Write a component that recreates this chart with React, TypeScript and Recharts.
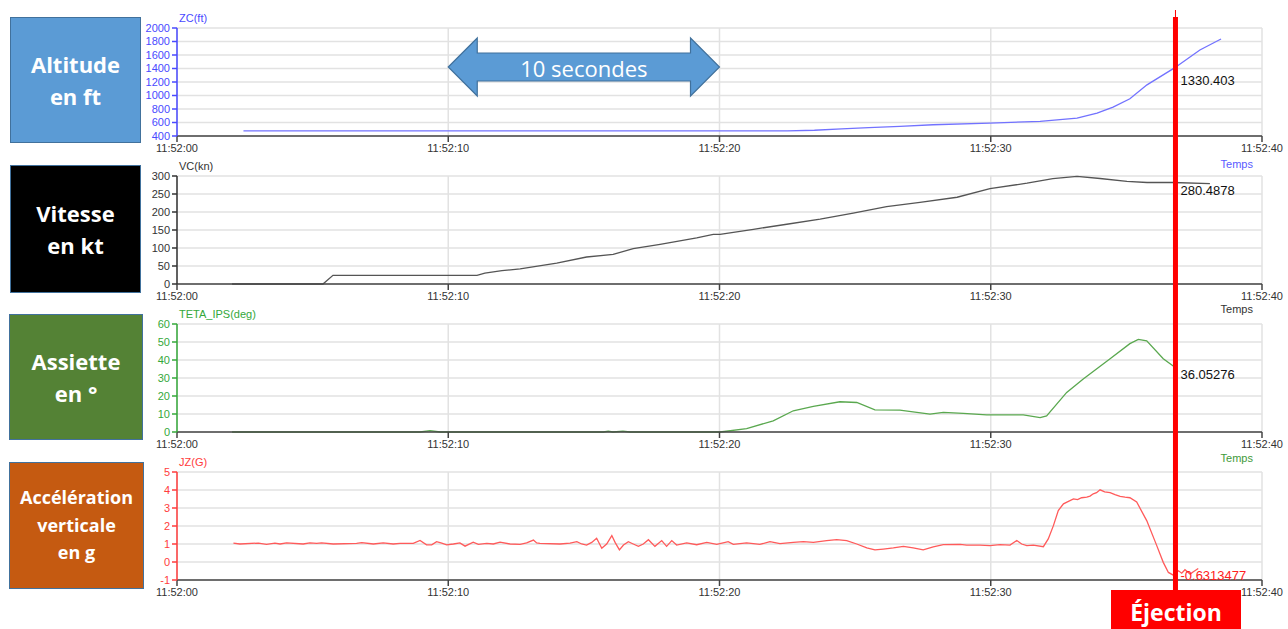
import React from 'react';
import { LineChart, Line, XAxis, YAxis, CartesianGrid, ReferenceDot } from 'recharts';

// seconds after 11:52:00
const TIME_TICKS = [0, 10, 20, 30, 40];
const ZC_TICKS = [400, 600, 800, 1000, 1200, 1400, 1600, 1800, 2000];
const VC_TICKS = [0, 50, 100, 150, 200, 250, 300];
const TETA_TICKS = [0, 10, 20, 30, 40, 50, 60];
const JZ_TICKS = [-1, 0, 1, 2, 3, 4, 5];

const EJECTION_T = 36.81;
const READOUTS = [1330.403, 280.4878, 36.05276, -0.6313477];

const ZC = [
  [2.45, 475], [22.5, 476], [23.5, 485], [24.5, 505], [25.5, 525], [26.65, 542], [27.87, 567],
  [29.97, 592], [31.82, 616], [33.18, 666], [33.92, 740], [34.51, 828], [35.13, 951],
  [35.76, 1158], [36.76, 1405], [37.71, 1675], [38.49, 1837],
];

const VC = [
  [2.03, 0], [5.38, 0], [5.75, 24], [11.06, 24], [11.35, 30], [11.98, 37], [12.65, 42],
  [14.0, 58], [15.1, 75], [16.08, 82], [16.82, 98], [17.81, 110], [19.16, 128], [19.77, 138],
  [20.02, 138], [21.25, 152], [22.48, 166], [23.71, 180], [24.93, 197], [26.16, 215],
  [27.39, 227], [28.76, 241], [29.97, 265], [31.34, 280], [32.29, 293], [33.18, 299],
  [34.03, 293], [35.02, 285], [35.76, 282], [36.72, 282], [38.08, 279],
];

const TETA = [
  [2.03, 0], [8.96, 0], [9.33, 0.8], [9.7, 0], [15.72, 0], [15.9, 0.5], [16.07, 0], [16.44, 0.5],
  [16.7, 0], [20.02, 0], [21.0, 1.9], [21.98, 6.2], [22.72, 11.8], [23.46, 14.2], [24.44, 16.8],
  [25.06, 16.4], [25.73, 12.3], [26.65, 12.2], [27.76, 9.9], [28.25, 10.9], [28.99, 10.3],
  [29.85, 9.5], [31.2, 9.5], [31.82, 8.0], [32.06, 8.9], [32.8, 22], [33.41, 29.5], [34.4, 40.7],
  [35.13, 49.1], [35.44, 51.4], [35.75, 50.6], [36.36, 40.7], [36.79, 36],
];

const JZ = [
  [2.08, 1.05], [2.32, 1.0], [3.0, 1.05], [3.3, 0.98], [3.61, 1.05], [3.8, 1.0], [4.04, 1.06],
  [4.65, 1.0], [4.9, 1.06], [5.15, 1.03], [5.33, 1.06], [5.76, 1.0], [6.62, 1.03], [6.81, 1.08],
  [7.24, 1.0], [7.6, 1.06], [7.97, 1.0], [8.22, 1.03], [8.71, 1.03], [8.96, 1.2], [9.2, 0.95],
  [9.39, 0.95], [9.57, 1.13], [9.76, 1.05], [9.94, 0.95], [10.19, 1.0], [10.43, 1.06],
  [10.62, 0.88], [10.92, 1.1], [11.11, 0.98], [11.42, 1.04], [11.66, 1.0], [11.91, 1.1],
  [12.28, 1.0], [12.65, 0.98], [12.89, 1.06], [13.14, 1.22], [13.26, 1.06], [13.38, 1.03],
  [14.12, 1.0], [14.49, 1.05], [14.74, 1.13], [14.92, 1.0], [15.1, 0.94], [15.29, 1.09],
  [15.47, 1.32], [15.66, 0.76], [15.84, 1.0], [16.03, 1.47], [16.15, 1.09], [16.31, 0.67],
  [16.46, 0.94], [16.64, 1.13], [16.82, 1.0], [17.01, 0.87], [17.19, 1.0], [17.38, 1.24],
  [17.62, 0.87], [17.87, 1.19], [18.05, 0.87], [18.24, 1.19], [18.42, 0.94], [18.79, 1.06],
  [19.16, 0.96], [19.53, 1.09], [19.9, 0.98], [20.32, 1.13], [20.51, 0.98], [21.0, 1.06],
  [21.49, 0.98], [21.86, 1.13], [22.23, 1.02], [22.72, 1.09], [23.09, 1.13], [23.46, 1.09],
  [23.95, 1.19], [24.32, 1.24], [24.69, 1.19], [25.06, 1.0], [25.43, 0.78], [25.73, 0.67],
  [26.04, 0.72], [26.41, 0.78], [26.78, 0.87], [27.14, 0.78], [27.51, 0.67], [27.88, 0.84],
  [28.25, 0.96], [28.87, 0.98], [29.11, 0.94], [29.6, 0.94], [29.97, 0.91], [30.34, 0.96],
  [30.71, 0.94], [30.96, 1.19], [31.14, 1.0], [31.33, 0.91], [31.57, 0.94], [31.94, 0.85],
  [32.12, 1.28], [32.31, 2.02], [32.49, 2.86], [32.68, 3.23], [33.05, 3.51], [33.2, 3.47],
  [33.35, 3.57], [33.54, 3.6], [33.66, 3.66], [33.78, 3.79], [33.9, 3.85], [34.03, 4.01],
  [34.2, 3.9], [34.4, 3.85], [34.58, 3.74], [34.77, 3.64], [34.95, 3.6], [35.13, 3.57],
  [35.38, 3.33], [35.75, 2.3], [36.12, 0.91], [36.36, -0.02], [36.55, -0.58], [36.73, -0.73],
  [36.92, -0.49], [37.04, -0.62], [37.16, -0.43], [37.35, -0.67], [37.47, -0.54], [37.65, -0.36],
];

const toRows = (pts: number[][]) => pts.map(([t, v]) => ({ t, v }));
const fmtTime = (t: number) => `11:52:${String(t).padStart(2, '0')}`;

const PLOT_LEFT = 177;
const PLOT_W = 1085;
const PLOT_H = 108;
const xOf = (t: number) => PLOT_LEFT + (t / 40) * PLOT_W;

const FONT = '"Liberation Sans", Arial, sans-serif';

const PANELS = [
  { top: 28, rows: toRows(ZC), ticks: ZC_TICKS, domain: [400, 2000], line: '#7272ff', axis: '#4a4aff', title: 'ZC(ft)', temps: '#5a5aff', tempsDy: 22, readDy: 7 },
  { top: 176, rows: toRows(VC), ticks: VC_TICKS, domain: [0, 300], line: '#555555', axis: '#333333', title: 'VC(kn)', temps: '#333333', tempsDy: 19, readDy: 7 },
  { top: 324, rows: toRows(TETA), ticks: TETA_TICKS, domain: [0, 60], line: '#5aa84f', axis: '#34a83a', title: 'TETA_IPS(deg)', temps: '#3f9a3a', tempsDy: 20, readDy: 7 },
  { top: 472, rows: toRows(JZ), ticks: JZ_TICKS, domain: [-1, 5], line: '#ff5a5a', axis: '#ff3c3c', title: 'JZ(G)', temps: null, tempsDy: 0, readDy: 2 },
];

const BOXES = [
  { top: 17, left: 10, w: 131, h: 126, bg: '#5b9bd5', lines: ['Altitude', 'en ft'], size: 22, lh: 32 },
  { top: 165, left: 10, w: 131, h: 128, bg: '#000000', lines: ['Vitesse', 'en kt'], size: 22, lh: 32 },
  { top: 314, left: 9, w: 134, h: 126, bg: '#548235', lines: ['Assiette', 'en °'], size: 22, lh: 32 },
  { top: 462, left: 9, w: 135, h: 127, bg: '#c55a11', lines: ['Accélération', 'verticale', 'en g'], size: 18, lh: 27.5 },
];

function Panel({ p, readout, readoutColor }: any) {
  return (
    <div style={{ position: 'absolute', left: 0, top: p.top - 10 }}>
      <LineChart
        width={1288}
        height={PLOT_H + 10 + 34}
        data={p.rows}
        margin={{ top: 10, right: 1288 - PLOT_LEFT - PLOT_W, bottom: 0, left: PLOT_LEFT - 40 }}
        style={{ fontFamily: FONT }}
      >
        <CartesianGrid stroke="#e2e2e2" strokeWidth={1.5} />
        <XAxis
          dataKey="t"
          type="number"
          domain={[0, 40]}
          ticks={TIME_TICKS}
          interval={0}
          tickFormatter={fmtTime}
          height={34}
          stroke="#444"
          strokeWidth={1.5}
          tickSize={6}
          tick={{ fill: '#333', fontSize: 11 }}
        />
        <YAxis
          type="number"
          domain={p.domain}
          ticks={p.ticks}
          interval={0}
          width={40}
          stroke={p.axis}
          strokeWidth={1.5}
          tickSize={5}
          tick={{ fill: p.axis, fontSize: 11 }}
        />
        <Line dataKey="v" stroke={p.line} strokeWidth={1.3} dot={false} isAnimationActive={false} />
        <ReferenceDot
          x={EJECTION_T}
          y={readout}
          r={0}
          shape={(s: any) => (
            <text x={s.cx + 5} y={s.cy + p.readDy} dominantBaseline="central" fontSize={13} fill={readoutColor} fontFamily={FONT}>
              {String(readout)}
            </text>
          )}
        />
      </LineChart>
    </div>
  );
}

export default function App() {
  const x10 = xOf(10);
  const x20 = xOf(20);
  const ex = xOf(EJECTION_T);
  const arrow = [
    [x10, 67], [x10 + 29, 38], [x10 + 29, 53], [x20 - 29, 53], [x20 - 29, 38], [x20, 67],
    [x20 - 29, 96], [x20 - 29, 81], [x10 + 29, 81], [x10 + 29, 96],
  ].map((q) => q.join(',')).join(' ');

  return (
    <div style={{ position: 'absolute', left: 0, top: 0, width: 1288, height: 629, background: '#fff', overflow: 'hidden', fontFamily: FONT }}>
      {PANELS.map((p, i) => (
        <Panel key={p.title} p={p} readout={READOUTS[i]} readoutColor={i === 3 ? '#ff2020' : '#111'} />
      ))}

      {PANELS.map((p) => (
        <div key={'t' + p.title} style={{ position: 'absolute', left: PLOT_LEFT + 2, top: p.top - 16, fontSize: 11, color: p.axis, lineHeight: '12px' }}>
          {p.title}
        </div>
      ))}
      {PANELS.filter((p) => p.temps).map((p) => (
        <div key={'temps' + p.title} style={{ position: 'absolute', right: 1288 - 1253, top: p.top + PLOT_H + p.tempsDy, fontSize: 11, color: p.temps as string, lineHeight: '12px' }}>
          Temps
        </div>
      ))}

      {BOXES.map((b) => (
        <div
          key={b.lines[0]}
          style={{
            position: 'absolute', left: b.left, top: b.top, width: b.w, height: b.h, background: b.bg,
            border: '1px solid #41719c', boxSizing: 'border-box', display: 'flex', flexDirection: 'column',
            justifyContent: 'center', alignItems: 'center', color: '#fff', fontFamily: '"Open Sans", sans-serif',
            fontWeight: 700, fontSize: b.size, lineHeight: `${b.lh}px`,
          }}
        >
          {b.lines.map((l) => <div key={l}>{l}</div>)}
        </div>
      ))}

      <svg width={1288} height={629} style={{ position: 'absolute', left: 0, top: 0, pointerEvents: 'none' }}>
        <polygon points={arrow} fill="#5b9bd5" stroke="#41719c" strokeWidth={1.2} />
        <text x={(x10 + x20) / 2} y={68} textAnchor="middle" dominantBaseline="central" fill="#fff" fontSize={22} fontFamily='"Open Sans", sans-serif'>
          10 secondes
        </text>
        <line x1={ex} x2={ex} y1={10} y2={18} stroke="#ff0000" strokeWidth={1} />
        <line x1={ex} x2={ex} y1={17} y2={591} stroke="#ff0000" strokeWidth={5} />
        <rect x={1111} y={590} width={130} height={40} fill="#ff0000" />
        <text x={1176} y={612} textAnchor="middle" dominantBaseline="central" fill="#fff" fontSize={23} fontWeight={700} fontFamily='"Open Sans", sans-serif'>
          Éjection
        </text>
      </svg>
    </div>
  );
}
